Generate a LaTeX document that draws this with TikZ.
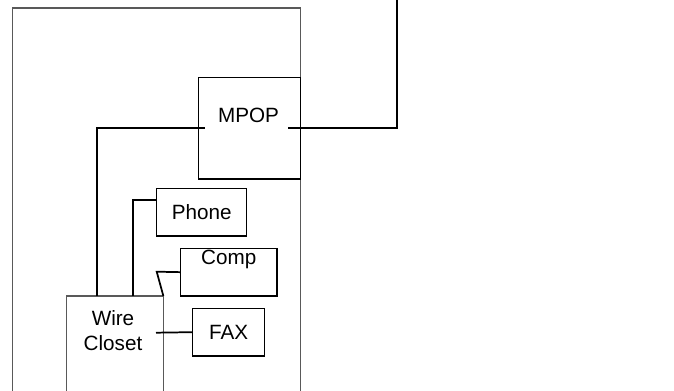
\documentclass[tikz,border=0pt]{standalone}
\usepackage{fontspec}
\setmainfont{Liberation Sans}
\usetikzlibrary{calc}
\begin{document}
\begin{tikzpicture}[x=0.75pt,y=-0.75pt,
  box/.style={draw=black,line width=0.85pt,rectangle,inner sep=0pt,outer sep=0pt,anchor=north west},
  frame/.style={draw=black!65,line width=0.85pt,rectangle,inner sep=0pt,outer sep=0pt,anchor=north west},
  txt/.style={font=\fontsize{15.5pt}{18.8pt}\selectfont,inner sep=0pt,align=center},
  wire/.style={draw=black,line width=1.3pt}]
\useasboundingbox (0,0) rectangle (674,391);
% outer room (open at bottom)
\node[frame,minimum width=216pt,minimum height=294pt] (room) at (12.7,8) {};
% MPOP
\node[box,minimum width=76.8pt,minimum height=76.3pt] (mpop) at (198.3,77.3) {};
\node[txt] (mpoptext) at (248.5,115) {MPOP};
% Phone
\node[box,minimum width=67.5pt,minimum height=35.8pt] (phone) at (156.7,188.3) {};
\node[txt] (phonetext) at (phone.center) {Phone};
% Comp
\node[box,minimum width=72.2pt,minimum height=35.8pt] (comp) at (180.7,248.3) {};
\node[txt] (comptext) at (228.8,259) {Comp};
% Wire closet (open at bottom)
\node[frame,minimum width=72.5pt,minimum height=78pt] (wc) at (66.7,296) {};
\node[txt] (wctext) at (113,330.5) {Wire\\Closet};
% FAX
\node[box,minimum width=54pt,minimum height=35.8pt] (fax) at (192.7,308.3) {};
\node[txt] (faxtext) at (fax.center) {FAX};
% connector end points
\coordinate (wa) at (96.7,296);
\coordinate (wb) at (132.7,296);
\coordinate (mpopin) at (205,128.3);
\coordinate (mpopout) at (288,128.3);
\coordinate (corner) at (396.7,128.3);
\coordinate (top) at (396.7,0);
\coordinate (bend) at (156.7,271.7);
\coordinate (faxin) at (156,332.7);
% connectors
\draw[wire] (wa) |- (mpopin);
\draw[wire] (mpopout) -- (corner) -- (top);
\draw[wire] (mpop.east) -- ++(25,0);
\draw[wire] (wb) |- ($(phone.north west)!0.25!(phone.south west)$);
\draw[wire] (wc.north east) -- (bend) -- (comp.west);
\draw[wire] (faxin) -- (fax.west);
\end{tikzpicture}
\end{document}
